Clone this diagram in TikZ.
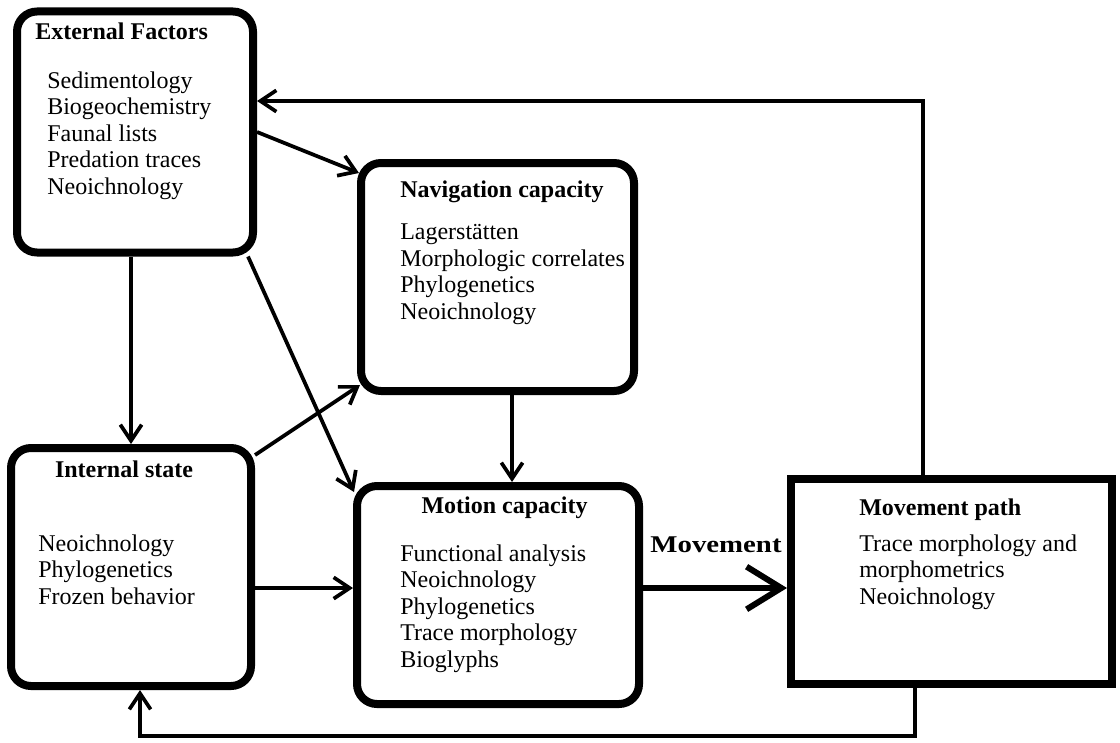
\documentclass[tikz,border=0pt]{standalone}
\usepackage{fontspec}
\usepackage{graphicx}
\setmainfont{Liberation Serif}
\usetikzlibrary{positioning}
\usetikzlibrary{calc}
\usetikzlibrary{arrows.meta}

\tikzset{
    box/.style={draw, line width=6pt, rounded corners=15pt, inner sep=0pt},
    sqbox/.style={draw, line width=6pt, inner sep=0pt},
    ttl/.style={anchor=base west, inner sep=0pt, font=\fontsize{18}{19.8}\selectfont\bfseries},
    lst/.style={anchor=north west, inner sep=0pt, align=left, font=\fontsize{18}{19.8}\selectfont},
    arr/.style={line width=2.8pt, -{Straight Barb[length=12pt,width=16pt]}},
    big/.style={line width=4.5pt, -{Straight Barb[length=26pt,width=32pt]}}
}

\begin{document}
\begin{tikzpicture}[x=0.75pt, y=-0.75pt]
    \useasboundingbox (0, 0) rectangle (1120, 742);
    \path (135, 132) node [box, minimum width=177pt, minimum height=180.75pt] (ext) {};
    \path (35, 40) node [ttl] (extt) {External Factors};
    \path (47, 71.5) node [lst] (extl) {Sedimentology\\Biogeochemistry\\Faunal lists\\Predation traces\\Neoichnology};
    \path (497.5, 277) node [box, minimum width=204.75pt, minimum height=171pt] (nav) {};
    \path (400, 197) node [ttl] (navt) {Navigation capacity};
    \path (400, 224) node [lst] (navl) {Lagerstätten\\Morphologic correlates\\Phylogenetics\\Neoichnology};
    \path (131, 567) node [box, minimum width=180pt, minimum height=178.5pt] (int) {};
    \path (124, 477) node [ttl, anchor=base] (intt) {Internal state};
    \path (38, 534.5) node [lst] (intl) {Neoichnology\\Phylogenetics\\Frozen behavior};
    \path (498, 595) node [box, minimum width=211.5pt, minimum height=163.5pt] (mot) {};
    \path (504.5, 513) node [ttl, anchor=base] (mott) {Motion capacity};
    \path (400, 544.5) node [lst] (motl) {Functional analysis\\Neoichnology\\Phylogenetics\\Trace morphology\\Bioglyphs};
    \path (951.5, 581.5) node [sqbox, minimum width=240.75pt, minimum height=153.75pt] (pth) {};
    \path (859, 515) node [ttl] (ptht) {Movement path};
    \path (859, 534.5) node [lst] (pthl) {Trace morphology and\\morphometrics\\Neoichnology};
    \draw [arr] (ext.east) -- ($(nav.north west)+(2,14)$);
    \draw [arr] (ext.south -| int.north) -- (int.north);
    \draw [arr] ($(ext.south east)+(-9,0)$) -- ($(mot.north west)+(1,10)$);
    \draw [arr] ($(int.north east)+(0,11)$) -- ($(nav.south west)+(3,-10)$);
    \draw [arr] ($(nav.south)+(14.5,0)$) -- ($(mot.north)+(14,0)$);
    \draw [arr] ($(int.east)+(0,21)$) -- ($(mot.west)+(0,-7)$);
    \draw [big] ($(mot.east)+(0,-7)$) -- ($(pth.west)+(0,6.5)$);
    \path (716, 552) node [ttl, anchor=base] (mvl) {\scalebox{1.2}[1]{Movement}};
    \draw [arr] ($(pth.north)+(-28.5,0)$) |- ($(ext.east)+(0,-31)$);
    \draw [arr] ($(pth.south)+(-36.5,0)$) -- ++(0,48) -| ($(int.south)+(9,0)$);
\end{tikzpicture}
\end{document}
